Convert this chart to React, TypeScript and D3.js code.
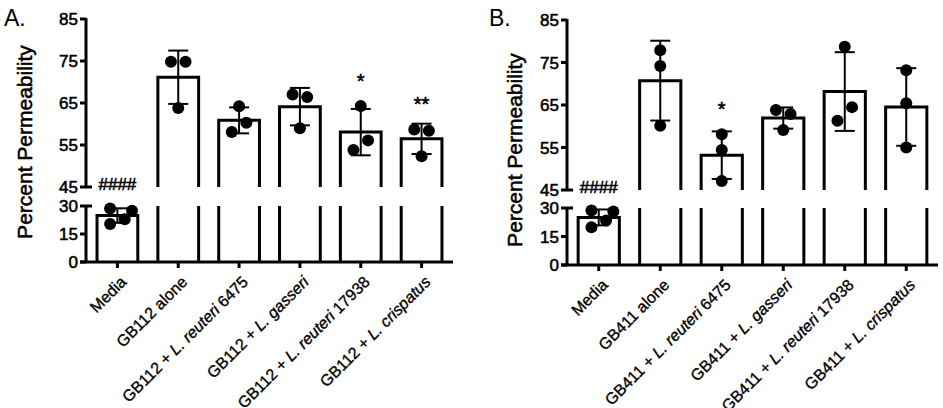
import * as d3 from "d3";

// ── Data ──────────────────────────────────────────────────────────────────────

const categoriesA = [
  "Media",
  "GB112 alone",
  "GB112 + L. reuteri 6475",
  "GB112 + L. gasseri",
  "GB112 + L. reuteri 17938",
  "GB112 + L. crispatus",
];
const categoriesB = [
  "Media",
  "GB411 alone",
  "GB411 + L. reuteri 6475",
  "GB411 + L. gasseri",
  "GB411 + L. reuteri 17938",
  "GB411 + L. crispatus",
];

// individual replicate values (percent permeability)
const replicatesA = [
  [28.7, 27.5, 22.9, 20.4],
  [74.8, 74.8, 63.8],
  [64.2, 60.3, 58.1],
  [67.0, 66.4, 59.0],
  [64.3, 56.1, 53.8],
  [58.7, 58.4, 52.3],
];
const replicatesB = [
  [28.7, 28.2, 23.4, 19.9],
  [77.9, 74.2, 60.1],
  [58.1, 54.4, 47.1],
  [63.8, 62.9, 59.1],
  [78.7, 64.5, 61.3],
  [73.2, 65.4, 55.0],
];

// horizontal slot of each replicate dot (scatter layout)
const slotsA = [
  [-1, 2, 1, -1],
  [-1, 1, 0],
  [0, 1, -1],
  [-1, 1, 0],
  [0, 1, -1],
  [-1, 1, 0],
];
const slotsB = [
  [-1, 2, 1, -1],
  [0, 0, 0],
  [0, 0, 0],
  [-1, 1, 0],
  [0, 1, -1],
  [0, 0, 0],
];

const marksA = ["####", "", "", "", "*", "**"];
const marksB = ["####", "", "*", "", "", ""];

const upperTicks = [45, 55, 65, 75, 85];
const lowerTicks = [0, 15, 30];

// ── Constants ─────────────────────────────────────────────────────────────────

const FONT = "'Liberation Sans', Arial, sans-serif";
const DOT_R = 6;
const SLOT_W = 7.3;
const CAP = 10;
const TXT_STROKE = 0.55;

interface PanelGeom {
  letter: string;
  letterX: number;
  axisX: number;
  axisEnd: number;
  top: number;
  breakTop: number;
  breakBot: number;
  base: number;
  titleX: number;
  titleY: number;
}

const geomA: PanelGeom = {
  letter: "A.",
  letterX: 4,
  axisX: 86,
  axisEnd: 453,
  top: 19,
  breakTop: 187,
  breakBot: 206,
  base: 262,
  titleX: 32,
  titleY: 142,
};
const geomB: PanelGeom = {
  letter: "B.",
  letterX: 489,
  axisX: 567,
  axisEnd: 938,
  top: 20,
  breakTop: 190,
  breakBot: 208,
  base: 265,
  titleX: 522,
  titleY: 150,
};

function labelParts(label: string) {
  const m = label.match(/^(.*?)(L\. [a-z]+)(.*)$/);
  if (!m) return <tspan>{label}</tspan>;
  return (
    <>
      <tspan>{m[1]}</tspan>
      <tspan fontStyle="italic">{m[2]}</tspan>
      <tspan>{m[3]}</tspan>
    </>
  );
}

// ── Panel ─────────────────────────────────────────────────────────────────────

function Panel({
  g,
  categories,
  replicates,
  slots,
  marks,
}: {
  g: PanelGeom;
  categories: string[];
  replicates: number[][];
  slots: number[][];
  marks: string[];
}) {
  const x = d3
    .scaleBand()
    .domain(categories)
    .range([g.axisX + 1, g.axisEnd - 1])
    .paddingInner(0.33)
    .paddingOuter(0.165);
  const yU = d3.scaleLinear().domain([45, 85]).range([g.breakTop, g.top]);
  const yL = d3.scaleLinear().domain([0, 30]).range([g.base, g.breakBot]);
  const yOf = (v: number) => (v >= 30 ? yU(v) : yL(v));

  const bw = x.bandwidth();
  const txt = { fontFamily: FONT, fill: "#000", stroke: "#000", strokeWidth: TXT_STROKE };

  return (
    <g>
      <text x={g.letterX} y={26} fontSize={23} fontFamily={FONT} fill="#000">
        {g.letter}
      </text>
      <text
        transform={`translate(${g.titleX},${g.titleY}) rotate(-90)`}
        textAnchor="middle"
        fontSize={21}
        {...txt}
      >
        Percent Permeability
      </text>

      {/* bars */}
      {categories.map((c, i) => {
        const vals = replicates[i];
        const mean = d3.mean(vals) ?? 0;
        const x0 = x(c) ?? 0;
        const x1 = x0 + bw;
        if (mean >= 30) {
          const yt = yU(mean);
          return (
            <g key={c} fill="none" stroke="#000" strokeWidth={3}>
              <path d={`M${x0},${g.breakTop}V${yt}H${x1}V${g.breakTop}`} />
              <line x1={x0} x2={x0} y1={g.breakBot} y2={g.base} />
              <line x1={x1} x2={x1} y1={g.breakBot} y2={g.base} />
            </g>
          );
        }
        return (
          <path
            key={c}
            d={`M${x0},${g.base}V${yL(mean)}H${x1}V${g.base}`}
            fill="none"
            stroke="#000"
            strokeWidth={3}
          />
        );
      })}

      {/* error bars, dots, significance */}
      {categories.map((c, i) => {
        const vals = replicates[i];
        const mean = d3.mean(vals) ?? 0;
        const sd = d3.deviation(vals) ?? 0;
        const cx = (x(c) ?? 0) + bw / 2;
        const hi = yOf(mean + sd);
        const lo = yOf(mean - sd);
        const topY = Math.min(hi, ...vals.map((v) => yOf(v) - DOT_R));
        const mark = marks[i];
        return (
          <g key={c}>
            <g stroke="#000" strokeWidth={2}>
              <line x1={cx} x2={cx} y1={hi} y2={lo} />
              <line x1={cx - CAP} x2={cx + CAP} y1={hi} y2={hi} />
              <line x1={cx - CAP} x2={cx + CAP} y1={lo} y2={lo} />
            </g>
            {vals.map((v, j) => (
              <circle key={j} cx={cx + slots[i][j] * SLOT_W} cy={yOf(v)} r={DOT_R} fill="#000" />
            ))}
            {mark &&
              (mean < 30 ? (
                <text x={cx} y={g.breakTop + 3} textAnchor="middle" fontSize={17} {...txt}>
                  {mark}
                </text>
              ) : (
                <text x={cx} y={topY - 12} textAnchor="middle" fontSize={20} {...txt}>
                  {mark}
                </text>
              ))}
          </g>
        );
      })}

      {/* y axis (broken) */}
      <g stroke="#000" strokeWidth={3}>
        <line x1={g.axisX} x2={g.axisX} y1={g.top - 1} y2={g.breakTop} />
        <line x1={g.axisX} x2={g.axisX} y1={g.breakBot} y2={g.base} />
        {upperTicks.map((t) => (
          <line
            key={`u${t}`}
            x1={g.axisX - 6}
            x2={t === 45 ? g.axisX + 6 : g.axisX}
            y1={yU(t)}
            y2={yU(t)}
          />
        ))}
        {lowerTicks.map((t) => (
          <line
            key={`l${t}`}
            x1={g.axisX - 6}
            x2={t === 30 ? g.axisX + 6 : g.axisX}
            y1={yL(t)}
            y2={yL(t)}
          />
        ))}
        <line x1={g.axisX - 6} x2={g.axisEnd} y1={g.base} y2={g.base} />
        {categories.map((c) => {
          const cx = (x(c) ?? 0) + bw / 2;
          return <line key={c} x1={cx} x2={cx} y1={g.base} y2={g.base + 6} />;
        })}
      </g>
      <g fontSize={17} textAnchor="end" {...txt}>
        {upperTicks.map((t) => (
          <text key={`u${t}`} x={g.axisX - 8} y={yU(t)} dy="0.36em">
            {t}
          </text>
        ))}
        {lowerTicks.map((t) => (
          <text key={`l${t}`} x={g.axisX - 8} y={yL(t)} dy="0.36em">
            {t}
          </text>
        ))}
      </g>

      {/* category labels */}
      <g fontSize={16} textAnchor="end" {...txt} strokeWidth={0.35}>
        {categories.map((c) => {
          const cx = (x(c) ?? 0) + bw / 2;
          return (
            <text
              key={c}
              transform={`translate(${cx + 6},${g.base + 17}) rotate(-45)`}
              dy="0.35em"
            >
              {labelParts(c)}
            </text>
          );
        })}
      </g>
    </g>
  );
}

// ── App ───────────────────────────────────────────────────────────────────────

export default function App() {
  return (
    <div style={{ position: "absolute", left: 0, top: 0, background: "#fff" }}>
      <svg width={943} height={408} style={{ display: "block" }}>
        <rect width={943} height={408} fill="#fff" />
        <Panel g={geomA} categories={categoriesA} replicates={replicatesA} slots={slotsA} marks={marksA} />
        <Panel g={geomB} categories={categoriesB} replicates={replicatesB} slots={slotsB} marks={marksB} />
      </svg>
    </div>
  );
}
